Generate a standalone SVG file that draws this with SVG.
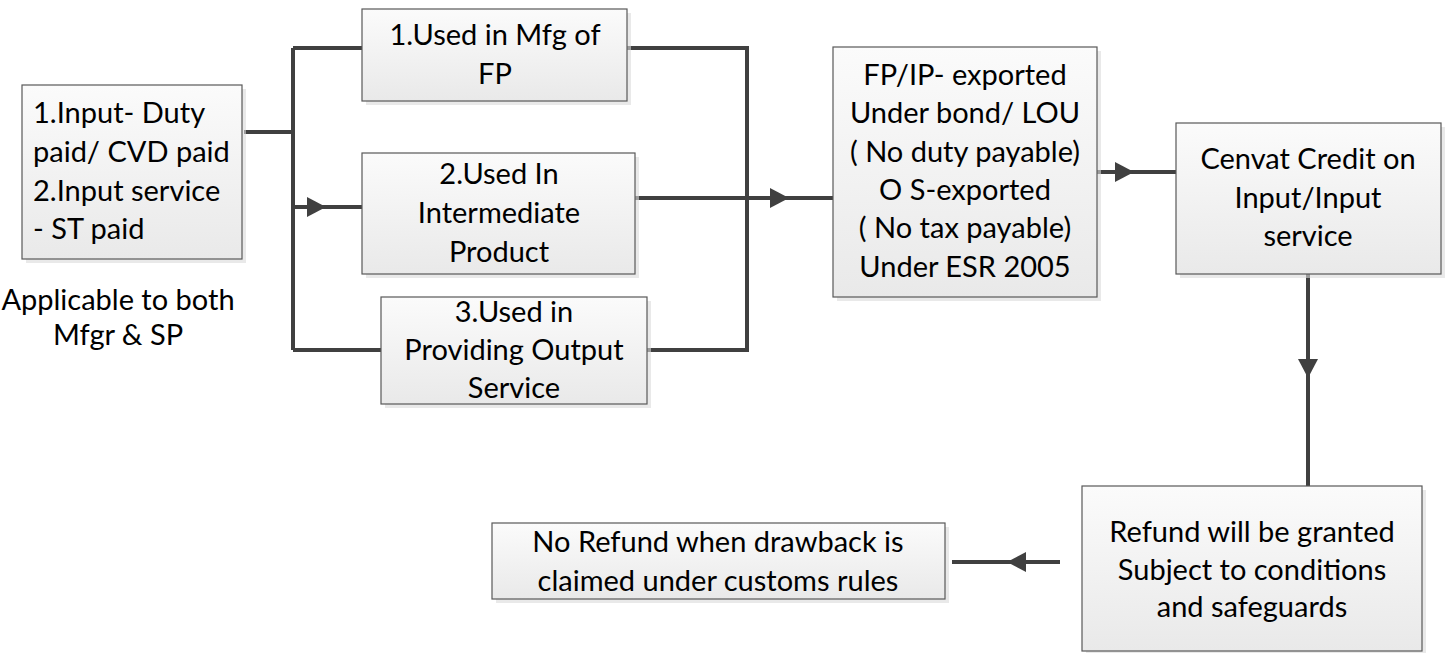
<svg xmlns="http://www.w3.org/2000/svg" width="1450" height="653" viewBox="0 0 1450 653">
<defs>
<linearGradient id="g" x1="0" y1="0" x2="0" y2="1">
<stop offset="0" stop-color="#fbfbfb"/>
<stop offset="1" stop-color="#e9e9e9"/>
</linearGradient>
<path id="ah" d="M0,0 L-19,-10 L-19,10 Z"/>
</defs>
<style>
.box{fill:url(#g);stroke:#595959;stroke-width:1.2}
.sh{fill:#dadada;opacity:0.6}
text{font-family:Lato,"Open Sans",sans-serif;font-size:29px;fill:#000}
.c{text-anchor:middle}
.ln{fill:none;stroke:#404040;stroke-width:4}
.arr{fill:#404040}
</style>
<rect width="1450" height="653" fill="#fff"/>
<g id="connectors">
<path class="ln" d="M244,132 H293 M293,48 V350 M293,48 H362 M293,207 H362 M293,350 H381"/>
<path class="ln" d="M627,48 H747 V350 H647 M635,198 H833"/>
<path class="ln" d="M1097,172 H1176"/>
<path class="ln" d="M1308,274 V486"/>
<path class="ln" d="M1060,562 H952"/>
<use href="#ah" class="arr" transform="translate(326,207)"/>
<use href="#ah" class="arr" transform="translate(789,198)"/>
<use href="#ah" class="arr" transform="translate(1134,172)"/>
<use href="#ah" class="arr" transform="translate(1308,378) rotate(90)"/>
<use href="#ah" class="arr" transform="translate(1007,562) rotate(180)"/>
</g>
<g id="n-input">
<rect class="sh" x="26" y="89" width="220" height="174"/>
<rect class="box" x="22" y="85" width="220" height="174"/>
<text x="33" y="123">1.Input- Duty</text>
<text x="33" y="162">paid/ CVD paid</text>
<text x="33" y="201">2.Input service</text>
<text x="33" y="239">- ST paid</text>
</g>
<g id="n-applicable">
<text class="c" x="118" y="310">Applicable to both</text>
<text class="c" x="118" y="345">Mfgr &amp; SP</text>
</g>
<g id="n-mfg">
<rect class="sh" x="366" y="13" width="265" height="92"/>
<rect class="box" x="362" y="9" width="265" height="92"/>
<text class="c" x="495" y="45">1.Used in Mfg of</text>
<text class="c" x="495" y="84">FP</text>
</g>
<g id="n-inter">
<rect class="sh" x="366" y="157" width="273" height="121"/>
<rect class="box" x="362" y="153" width="273" height="121"/>
<text class="c" x="499" y="184">2.Used In</text>
<text class="c" x="499" y="223">Intermediate</text>
<text class="c" x="499" y="262">Product</text>
</g>
<g id="n-output">
<rect class="sh" x="385" y="301" width="266" height="107"/>
<rect class="box" x="381" y="297" width="266" height="107"/>
<text class="c" x="514" y="322">3.Used in</text>
<text class="c" x="514" y="360">Providing Output</text>
<text class="c" x="514" y="398">Service</text>
</g>
<g id="n-export">
<rect class="sh" x="837" y="51" width="264" height="250"/>
<rect class="box" x="833" y="47" width="264" height="250"/>
<text class="c" x="965" y="85">FP/IP- exported</text>
<text class="c" x="965" y="123">Under bond/ LOU</text>
<text class="c" x="965" y="162">( No duty payable)</text>
<text class="c" x="965" y="200">O S-exported</text>
<text class="c" x="965" y="238">( No tax payable)</text>
<text class="c" x="965" y="277">Under ESR 2005</text>
</g>
<g id="n-cenvat">
<rect class="sh" x="1180" y="127" width="265" height="151"/>
<rect class="box" x="1176" y="123" width="265" height="151"/>
<text class="c" x="1308" y="169">Cenvat Credit on</text>
<text class="c" x="1308" y="208">Input/Input</text>
<text class="c" x="1308" y="246">service</text>
</g>
<g id="n-refund">
<rect class="sh" x="1086" y="490" width="340" height="165"/>
<rect class="box" x="1082" y="486" width="340" height="165"/>
<text class="c" x="1252" y="542">Refund will be granted</text>
<text class="c" x="1252" y="580">Subject to conditions</text>
<text class="c" x="1252" y="617">and safeguards</text>
</g>
<g id="n-norefund">
<rect class="sh" x="496" y="527" width="453" height="76"/>
<rect class="box" x="492" y="523" width="453" height="76"/>
<text class="c" x="718" y="552">No Refund when drawback is</text>
<text class="c" x="718" y="591">claimed under customs rules</text>
</g>
</svg>
